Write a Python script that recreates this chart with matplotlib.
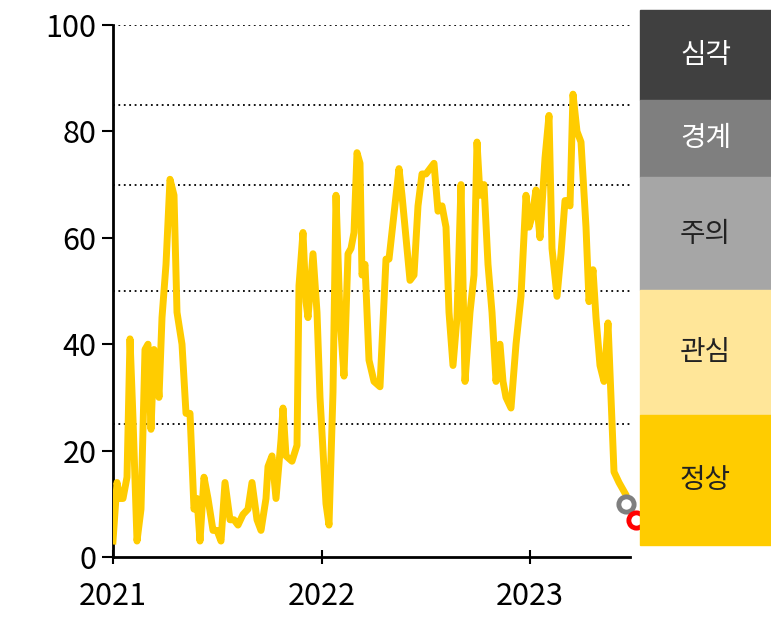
import matplotlib
matplotlib.use("Agg")
import matplotlib.pyplot as plt
from matplotlib.patches import Rectangle

plt.rcParams['font.family'] = ['Noto Sans CJK KR', 'DejaVu Sans']

px = [113,117,120,123,127,130,133,137,141,145,148,151,154,157,159,162,166,170,174,177,182,186,190,194,197,200,204,208,213,217,221,225,230,234,238,243,248,252,257,261,266,268,272,276,281,283,286,292,297,299,303,306,308,313,317,320,326,329,333,336,340,344,348,351,354,357,360,362,365,369,374,380,386,389,396,399,402,406,410,414,418,422,426,430,434,438,442,446,449,453,457,461,465,470,474,477,480,484,488,492,496,500,503,506,511,516,521,526,529,532,536,538,540,545,549,552,557,561,565,568,570,573,577,581,586,589,593,596,600,604,608,614,619,625]
values = [3,14,11,11,15,41,26,3,9,39,40,24,39,35,30,45,55,71,68,46,40,27,27,9,11,3,15,11,5,5,3,14,7,7,6,8,9,14,7,5,11,17,19,11,22,28,19,18,21,51,61,48,45,57,46,30,10,6,31,68,45,34,57,58,61,76,74,53,55,37,33,32,56,56,68,73,68,60,52,53,66,72,72,73,74,65,66,62,46,36,45,70,33,46,53,78,68,70,55,46,33,40,33,30,28,40,49,68,62,64,69,64,60,75,83,58,49,57,67,67,66,87,80,78,62,48,54,45,36,33,44,16,14,12]
dates = [2021 + (p - 113) / 208.5 for p in px]
prev_point = (2021 + (626 - 113) / 208.5, 10)
last_point = (2021 + (636 - 113) / 208.5, 7)
levels = [25, 50, 70, 85, 100]
band_labels = ['심각', '경계', '주의', '관심', '정상']
band_colors = ['#404040', '#7f7f7f', '#a6a6a6', '#ffe699', '#ffcc00']
band_text = ['white', 'white', '#222222', '#222222', '#222222']
band_px = [(10, 100), (100, 177), (177, 290), (290, 415), (415, 545)]

W, H = 771, 637
fig = plt.figure(figsize=(W/100, H/100), dpi=100)
ax = fig.add_axes([113/W, 1-557/H, (630-113)/W, (557-25)/H])
for lv in levels:
    ax.axhline(lv, color='black', ls=(0, (1, 2)), lw=1.3, zorder=1)
ax.plot(dates, values, color='#ffcc00', lw=5, zorder=3, solid_joinstyle='round')
ax.plot(*prev_point, 'o', ms=11, mfc='white', mec='#7f7f7f', mew=3.5, clip_on=False, zorder=4)
ax.plot(*last_point, 'o', ms=11, mfc='white', mec='red', mew=3.5, clip_on=False, zorder=5)
ax.set_xlim(2021, 2021 + (630 - 113) / 208.5)
ax.set_ylim(0, 100)
ax.set_yticks([0, 20, 40, 60, 80, 100])
ax.set_xticks([2021, 2022, 2023])
ax.set_xticklabels(['2021', '2022', '2023'])
ax.tick_params(axis='y', labelsize=22, length=8, width=1.5, direction='out', pad=4)
ax.tick_params(axis='x', labelsize=22, length=10, width=1.5, direction='inout', pad=12)
for s in ['top', 'right']:
    ax.spines[s].set_visible(False)
for s in ['left', 'bottom']:
    ax.spines[s].set_linewidth(2)

for lab, col, tc, (t, b) in zip(band_labels, band_colors, band_text, band_px):
    fig.patches.append(Rectangle((640/W, 1-b/H), (771-640)/W, (b-t)/H,
                                 transform=fig.transFigure, color=col, zorder=0))
    fig.text((640+771)/2/W, 1-(t+b)/2/H, lab, ha='center', va='center',
             fontsize=20, color=tc)

fig.savefig('out.png', dpi=100)
